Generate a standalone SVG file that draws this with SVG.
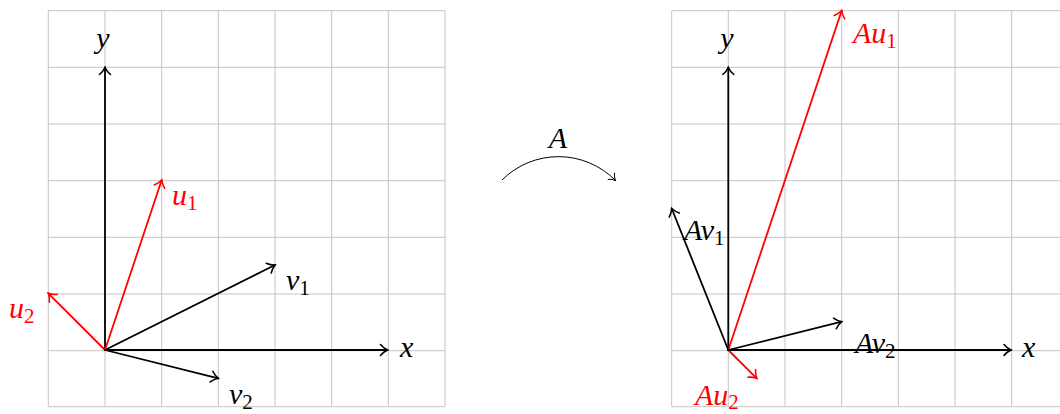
<svg xmlns="http://www.w3.org/2000/svg" width="1060" height="414" viewBox="0 0 1060 414">
<defs>
<style>
.grid line{stroke:#c4c4c4;stroke-width:1}
.vec{fill:none;stroke-width:1.8;stroke-linecap:round}
.blk{stroke:#000;marker-end:url(#ak)}
.red{stroke:#ff0000;marker-end:url(#ar)}
text{font-family:"Liberation Serif","Times New Roman",serif;font-style:italic;font-size:30px}
.tr{fill:#ff0000}
.tb{fill:#000}
.sub{font-size:21px;font-style:normal}
</style>
<marker id="ak" markerUnits="userSpaceOnUse" markerWidth="20" markerHeight="20" refX="0" refY="0" orient="auto" overflow="visible">
<path d="M-7,-5.5 C-4.5,-2.5 -1.5,-0.7 0,0 C-1.5,0.7 -4.5,2.5 -7,5.5" fill="none" stroke="#000" stroke-width="1.6" stroke-linecap="round"/>
</marker>
<marker id="ar" markerUnits="userSpaceOnUse" markerWidth="20" markerHeight="20" refX="0" refY="0" orient="auto" overflow="visible">
<path d="M-7,-5.5 C-4.5,-2.5 -1.5,-0.7 0,0 C-1.5,0.7 -4.5,2.5 -7,5.5" fill="none" stroke="#ff0000" stroke-width="1.6" stroke-linecap="round"/>
</marker>
<marker id="as" markerUnits="userSpaceOnUse" markerWidth="20" markerHeight="20" refX="0" refY="0" orient="auto" overflow="visible">
<path d="M-6,-4.5 C-4,-2 -1.3,-0.6 0,0 C-1.3,0.6 -4,2 -6,4.5" fill="none" stroke="#000" stroke-width="1" stroke-linecap="round"/>
</marker>
</defs>
<rect width="1060" height="414" fill="#fff"/>

<g id="grid-left" class="grid">
<line x1="48.3" y1="10.7" x2="48.3" y2="406.7"/>
<line x1="105" y1="10.7" x2="105" y2="406.7"/>
<line x1="161.7" y1="10.7" x2="161.7" y2="406.7"/>
<line x1="218.3" y1="10.7" x2="218.3" y2="406.7"/>
<line x1="275" y1="10.7" x2="275" y2="406.7"/>
<line x1="331.7" y1="10.7" x2="331.7" y2="406.7"/>
<line x1="388.3" y1="10.7" x2="388.3" y2="406.7"/>
<line x1="445" y1="10.7" x2="445" y2="406.7"/>
<line x1="48.3" y1="10.7" x2="445" y2="10.7"/>
<line x1="48.3" y1="67.3" x2="445" y2="67.3"/>
<line x1="48.3" y1="124" x2="445" y2="124"/>
<line x1="48.3" y1="180.7" x2="445" y2="180.7"/>
<line x1="48.3" y1="237.3" x2="445" y2="237.3"/>
<line x1="48.3" y1="294" x2="445" y2="294"/>
<line x1="48.3" y1="350.7" x2="445" y2="350.7"/>
<line x1="48.3" y1="406.7" x2="445" y2="406.7"/>
</g>

<g id="grid-right" class="grid">
<line x1="671.7" y1="10.7" x2="671.7" y2="406.7"/>
<line x1="728.3" y1="10.7" x2="728.3" y2="406.7"/>
<line x1="785" y1="10.7" x2="785" y2="406.7"/>
<line x1="841.7" y1="10.7" x2="841.7" y2="406.7"/>
<line x1="898.3" y1="10.7" x2="898.3" y2="406.7"/>
<line x1="955" y1="10.7" x2="955" y2="406.7"/>
<line x1="1011.7" y1="10.7" x2="1011.7" y2="406.7"/>
<line x1="671.7" y1="10.7" x2="1068" y2="10.7"/>
<line x1="671.7" y1="67.3" x2="1068" y2="67.3"/>
<line x1="671.7" y1="124" x2="1068" y2="124"/>
<line x1="671.7" y1="180.7" x2="1068" y2="180.7"/>
<line x1="671.7" y1="237.3" x2="1068" y2="237.3"/>
<line x1="671.7" y1="294" x2="1068" y2="294"/>
<line x1="671.7" y1="350.7" x2="1068" y2="350.7"/>
<line x1="671.7" y1="406.7" x2="1068" y2="406.7"/>
</g>

<g id="connectors">
<!-- left -->
<line class="vec blk" x1="105" y1="350" x2="387.5" y2="350"/>
<line class="vec blk" x1="105" y1="350" x2="105" y2="67.5"/>
<line class="vec red" x1="105" y1="350" x2="161.7" y2="180"/>
<line class="vec red" x1="105" y1="350" x2="48.3" y2="293.3"/>
<line class="vec blk" x1="105" y1="350" x2="275" y2="265"/>
<line class="vec blk" x1="105" y1="350" x2="218.3" y2="378.3"/>
<!-- right -->
<line class="vec blk" x1="728.3" y1="350" x2="1011" y2="350"/>
<line class="vec blk" x1="728.3" y1="350" x2="728.3" y2="67.5"/>
<line class="vec red" x1="728.3" y1="350" x2="841.7" y2="10.5"/>
<line class="vec red" x1="728.3" y1="350" x2="756.7" y2="378.3"/>
<line class="vec blk" x1="728.3" y1="350" x2="671.7" y2="208.5"/>
<line class="vec blk" x1="728.3" y1="350" x2="841.7" y2="321.7"/>
<!-- map arc -->
<path d="M502,180 A80,80 0 0 1 615.5,180.5" fill="none" stroke="#000" stroke-width="1" marker-end="url(#as)"/>
</g>

<g id="labels-left">
<text class="tb" x="103" y="48" text-anchor="middle">y</text>
<text class="tb" x="400" y="357">x</text>
<text class="tr" x="172" y="205">u<tspan class="sub" dy="5">1</tspan></text>
<text class="tr" x="9" y="318">u<tspan class="sub" dy="5">2</tspan></text>
<text class="tb" x="286" y="290">v<tspan class="sub" dy="5">1</tspan></text>
<text class="tb" x="229" y="404">v<tspan class="sub" dy="5">2</tspan></text>
</g>

<g id="label-map">
<text class="tb" x="558" y="148" text-anchor="middle">A</text>
</g>

<g id="labels-right">
<text class="tb" x="727" y="48" text-anchor="middle">y</text>
<text class="tb" x="1022" y="357">x</text>
<text class="tr" x="853" y="43">Au<tspan class="sub" dy="5">1</tspan></text>
<text class="tr" x="695" y="405">Au<tspan class="sub" dy="4">2</tspan></text>
<text class="tb" x="684" y="240">Av<tspan class="sub" dy="5">1</tspan></text>
<text class="tb" x="855" y="353">Av<tspan class="sub" dy="5">2</tspan></text>
</g>
</svg>
